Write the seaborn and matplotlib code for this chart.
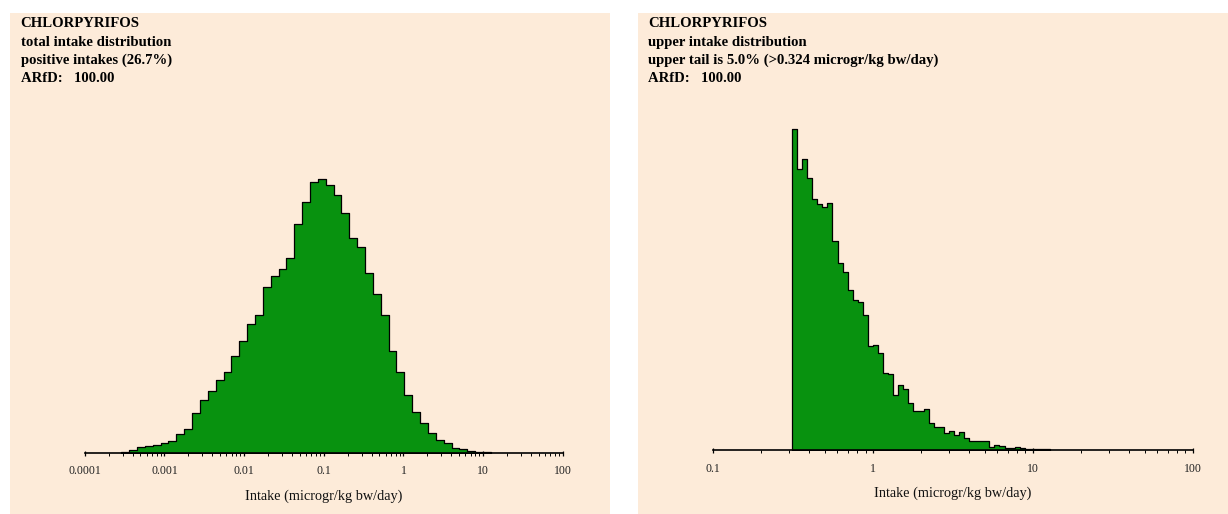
import numpy as np
import pandas as pd
import matplotlib
matplotlib.use("Agg")
import matplotlib.pyplot as plt
from matplotlib.patches import Rectangle
from matplotlib.ticker import FixedLocator, LogLocator, FuncFormatter, NullFormatter
import seaborn as sns

# Total intake distribution: histogram bins on a log10 scale
total_log_start = -3.542
total_log_width = 0.0987
total_freq = [1, 3, 6, 7.3, 8.3, 10, 11.7, 19.3, 24.3, 40, 53.3, 62.3, 72.7, 80.7,
              97, 112.3, 129, 137.7, 165.7, 177.3, 184.3, 195.3, 229.3, 250.7,
              271.3, 274, 268.3, 257.7, 240.3, 215, 206.3, 180, 159, 138.3, 101.7,
              81.3, 58.3, 40.7, 30, 20.3, 12.7, 10.3, 5.3, 4, 2, 1, 0.7]

# Upper tail of the intake distribution (above 0.324 microgr/kg bw/day)
upper_log_start = -0.506
upper_log_width = 0.03165
upper_freq = [320.7, 281, 290.7, 272.3, 251.3, 246.3, 243.3, 247.3, 208.7, 186.7,
              178, 159.7, 150, 148.3, 134.7, 104, 104.7, 97, 77, 76, 55, 64.7,
              60.7, 46.7, 39, 39, 40.7, 26.7, 23.3, 23.3, 17.3, 19.3, 15.3, 18.3,
              11.7, 9, 9, 9, 9, 3, 5.3, 4, 2.3, 1.7, 3, 2.5, 1.3, 1.3, 1.3, 1.0, 0.8]

total_title = ["CHLORPYRIFOS",
               "total intake distribution",
               "positive intakes (26.7%)",
               "ARfD:   100.00"]
upper_title = ["CHLORPYRIFOS",
               "upper intake distribution",
               "upper tail is 5.0% (>0.324 microgr/kg bw/day)",
               "ARfD:   100.00"]
x_label = "Intake (microgr/kg bw/day)"
total_ticks = [0.0001, 0.001, 0.01, 0.1, 1, 10, 100]
upper_ticks = [0.1, 1, 10, 100]

PEACH = "#FDEBD9"
GREEN = "#08920F"
W, H = 1228, 514

sns.set_style("white")
plt.rcParams["font.family"] = ["Liberation Serif", "DejaVu Serif"]

fig = plt.figure(figsize=(W / 100, H / 100), dpi=100)
fig.patch.set_facecolor("white")


def px_box(x0, y0, x1, y1):
    """Figure-fraction box from pixel coordinates measured from the top left."""
    return [x0 / W, 1 - y1 / H, (x1 - x0) / W, (y1 - y0) / H]


# Panel backgrounds, kept beneath the axes
for x0, x1 in [(10, 610), (638, 1228)]:
    fig.patches.append(Rectangle((x0 / W, 0), (x1 - x0) / W, 1 - 13 / H,
                                 transform=fig.transFigure, facecolor=PEACH,
                                 edgecolor="none", zorder=-5))


def draw_panel(box, start, width, freq, ymax, xlim, ticks, title, title_x):
    ax = fig.add_axes(px_box(*box))
    ax.set_facecolor("none")
    ax.set_zorder(2)
    edges = start + width * np.arange(len(freq) + 1)
    bins = pd.DataFrame({
        "intake": 10 ** ((edges[:-1] + edges[1:]) / 2),
        "freq": np.asarray(freq, dtype=float),
    })
    # bin edges are given in log10 units because the axis is log scaled
    sns.histplot(data=bins, x="intake", weights="freq", bins=edges.tolist(),
                 log_scale=True, element="step", fill=True, color=GREEN, alpha=1,
                 edgecolor="black", linewidth=0.9, ax=ax)
    ax.set_xlim(*xlim)
    ax.set_ylim(0, ymax)
    for side in ["top", "left", "right"]:
        ax.spines[side].set_visible(False)
    ax.spines["bottom"].set_color("black")
    ax.spines["bottom"].set_linewidth(1.2)
    ax.set_yticks([])
    ax.set_ylabel("")
    ax.xaxis.set_major_locator(FixedLocator(ticks))
    ax.xaxis.set_major_formatter(FuncFormatter(lambda v, p: f"{v:g}"))
    ax.xaxis.set_minor_locator(LogLocator(base=10, subs=np.arange(2, 10), numticks=50))
    ax.xaxis.set_minor_formatter(NullFormatter())
    ax.tick_params(axis="x", which="both", bottom=True, colors="black",
                   labelcolor="#222222")
    ax.tick_params(axis="x", which="major", direction="inout", length=3.6,
                   width=0.9, labelsize=8.5, pad=7.2)
    ax.tick_params(axis="x", which="minor", direction="out", length=2, width=0.7)
    ax.set_xlabel(x_label, fontsize=10.3, color="#111111")
    axis_h = box[3] - box[1]
    ax.xaxis.set_label_coords(0.5, -47 / axis_h)
    ax.xaxis.label.set_va("baseline")
    for i, line in enumerate(title):
        fig.text(title_x / W, 1 - (27.3 + 18.4 * i) / H, line, fontsize=10.6,
                 fontweight="bold", va="baseline", ha="left", color="black",
                 zorder=3)
    return ax


draw_panel((84.8, 153, 562.8, 453), total_log_start, total_log_width, total_freq,
           300, (1e-4, 100), total_ticks, total_title, 20.7)
draw_panel((713, 120, 1192.7, 450), upper_log_start, upper_log_width, upper_freq,
           330, (0.1, 100), upper_ticks, upper_title, 648.3)

fig.savefig("out.png", dpi=100, facecolor=fig.get_facecolor())
